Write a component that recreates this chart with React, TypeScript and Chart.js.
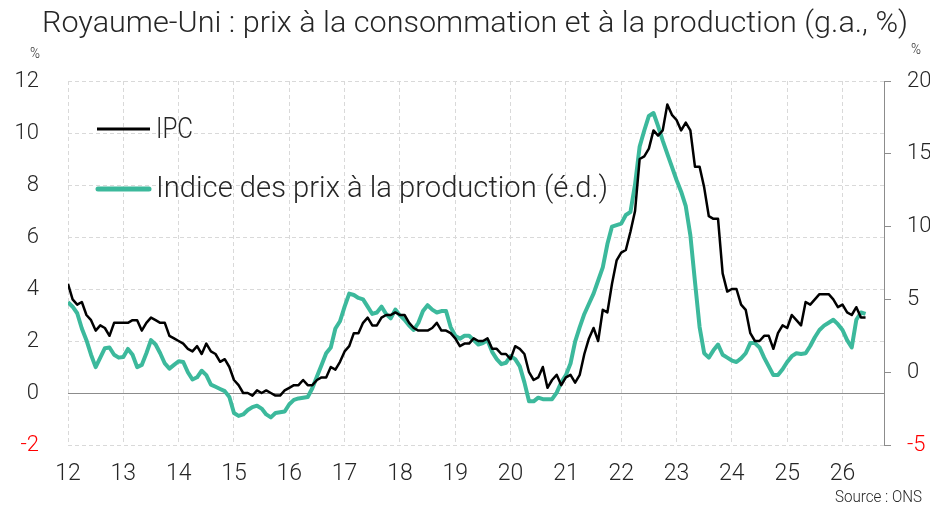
import React, { useEffect, useRef } from "react";
import { Chart, registerables } from "chart.js";

Chart.register(...registerables);

// Monthly series, first point placed at the start of 2012, one point per month
const startYear = 2012;
// IPC (CPI), % y/y, left axis
const ipc = [
  4.2,
  3.6, 3.4, 3.5, 3.0, 2.8, 2.4, 2.6, 2.5, 2.2, 2.7, 2.7, 2.7,
  2.7, 2.8, 2.8, 2.4, 2.7, 2.9, 2.8, 2.7, 2.7, 2.2, 2.1, 2.0,
  1.9, 1.7, 1.6, 1.8, 1.5, 1.9, 1.6, 1.5, 1.2, 1.3, 1.0, 0.5,
  0.3, 0.0, 0.0, -0.1, 0.1, 0.0, 0.1, 0.0, -0.1, -0.1, 0.1, 0.2,
  0.3, 0.3, 0.5, 0.3, 0.3, 0.5, 0.6, 0.6, 1.0, 0.9, 1.2, 1.6,
  1.8, 2.3, 2.3, 2.7, 2.9, 2.6, 2.6, 2.9, 3.0, 3.0, 3.1, 3.0,
  3.0, 2.7, 2.5, 2.4, 2.4, 2.4, 2.5, 2.7, 2.4, 2.4, 2.3, 2.1,
  1.8, 1.9, 1.9, 2.1, 2.0, 2.0, 2.1, 1.7, 1.7, 1.5, 1.5, 1.3,
  1.8, 1.7, 1.5, 0.8, 0.5, 0.6, 1.0, 0.2, 0.5, 0.7, 0.3, 0.6,
  0.7, 0.4, 0.7, 1.5, 2.1, 2.5, 2.0, 3.2, 3.1, 4.2, 5.1, 5.4,
  5.5, 6.2, 7.0, 9.0, 9.1, 9.4, 10.1, 9.9, 10.1, 11.1, 10.7, 10.5,
  10.1, 10.4, 10.1, 8.7, 8.7, 7.9, 6.8, 6.7, 6.7, 4.6, 3.9, 4.0,
  4.0, 3.4, 3.2, 2.3, 2.0, 2.0, 2.2, 2.2, 1.7, 2.3, 2.6, 2.5,
  3.0, 2.8, 2.6, 3.5, 3.4, 3.6, 3.8, 3.8, 3.8, 3.6, 3.3, 3.4,
  3.1, 3.0, 3.3, 2.9, 2.9,
];
// Indice des prix à la production, % y/y, right axis
const ppi = [
  4.8,
  4.5, 4.05, 3.0, 2.2, 1.2, 0.35, 1.0, 1.65, 1.7, 1.2, 1.0, 1.05,
  1.6, 1.2, 0.35, 0.5, 1.3, 2.2, 1.9, 1.3, 0.6, 0.25, 0.5, 0.75,
  0.7, 0.0, -0.5, -0.35, 0.1, -0.2, -0.85, -1.0, -1.15, -1.3, -1.7, -2.8,
  -3.0, -2.9, -2.6, -2.4, -2.3, -2.5, -2.9, -3.1, -2.8, -2.75, -2.7, -2.2,
  -1.9, -1.8, -1.75, -1.7, -1.1, -0.3, 0.5, 1.3, 1.7, 3.0, 3.5, 4.5,
  5.4, 5.3, 5.1, 5.0, 4.5, 4.0, 4.1, 4.5, 4.0, 3.7, 4.3, 3.9,
  3.6, 3.2, 2.9, 3.4, 4.2, 4.6, 4.3, 4.1, 4.2, 4.2, 3.1, 2.5,
  2.3, 2.5, 2.5, 2.2, 1.9, 2.0, 2.2, 1.4, 0.9, 0.55, 0.65, 1.1,
  0.9, 0.4, -0.7, -2.0, -2.0, -1.75, -1.85, -1.85, -1.85, -1.4, -0.7, -0.2,
  0.6, 2.1, 3.1, 4.0, 4.7, 5.4, 6.3, 7.2, 8.8, 10.0, 10.1, 10.2,
  10.8, 11.0, 12.9, 15.5, 16.6, 17.6, 17.8, 16.9, 15.9, 15.0, 14.1, 13.2,
  12.4, 11.4, 9.4, 6.2, 3.1, 1.3, 1.0, 1.5, 1.9, 1.2, 1.0, 0.8,
  0.7, 0.95, 1.3, 2.0, 2.0, 1.7, 1.0, 0.4, -0.2, -0.2, 0.2, 0.7,
  1.1, 1.3, 1.25, 1.3, 1.8, 2.4, 2.9, 3.2, 3.4, 3.6, 3.3, 2.9,
  2.2, 1.7, 3.6, 4.1, 4.0,
];
const yearTicks = [2012, 2013, 2014, 2015, 2016, 2017, 2018, 2019, 2020, 2021, 2022, 2023, 2024, 2025, 2026];
const xMax = 2026.75;
const leftTicks = { min: -2, max: 12, step: 2 };
const rightTicks = { min: -5, max: 20, step: 5 };

const titleText = "Royaume-Uni : prix à la consommation et à la production (g.a., %)";
const ipcLabel = "IPC";
const ppiLabel = "Indice des prix à la production (é.d.)";
const sourceText = "Source : ONS";

const FONT = "Roboto, 'Noto Sans', sans-serif";
const TEXT = "#262626";
const TEAL = "#3cb99c";
const GRID = "#d9d9d9";
const AXIS = "#8c8c8c";

function fitText(ctx: CanvasRenderingContext2D, text: string, x: number, y: number, width: number, size: number, align: string, color = TEXT) {
  ctx.save();
  ctx.font = `300 ${size}px ${FONT}`;
  const w = ctx.measureText(text).width;
  const s = width / w;
  ctx.translate(x, y);
  ctx.scale(s, 1);
  ctx.textAlign = "left";
  ctx.textBaseline = "alphabetic";
  ctx.fillStyle = color;
  const x0 = align === "left" ? 0 : align === "right" ? -w : -w / 2;
  ctx.fillText(text, x0, 0);
  ctx.restore();
}

const decorPlugin = {
  id: "decor",
  beforeDatasetsDraw(chart: any) {
    const { ctx, chartArea, scales } = chart;
    const y0 = scales.y.getPixelForValue(0);
    ctx.save();
    ctx.strokeStyle = AXIS;
    ctx.lineWidth = 1;
    ctx.beginPath();
    ctx.moveTo(chartArea.left, Math.round(y0) + 0.5);
    ctx.lineTo(chartArea.right, Math.round(y0) + 0.5);
    ctx.stroke();
    ctx.restore();
  },
  afterDraw(chart: any) {
    const { ctx } = chart;
    fitText(ctx, titleText, 475, 32, 866, 30, "center");
    fitText(ctx, "%", 35, 58, 10, 15, "center");
    fitText(ctx, "%", 916, 54, 10, 15, "center");
    fitText(ctx, sourceText, 922, 502, 87, 16, "right");
    ctx.save();
    ctx.lineCap = "butt";
    ctx.strokeStyle = "#000";
    ctx.lineWidth = 3;
    ctx.beginPath();
    ctx.moveTo(97, 129);
    ctx.lineTo(150, 129);
    ctx.stroke();
    ctx.strokeStyle = TEAL;
    ctx.lineWidth = 5;
    ctx.lineCap = "round";
    ctx.beginPath();
    ctx.moveTo(98, 189);
    ctx.lineTo(149, 189);
    ctx.stroke();
    ctx.restore();
    fitText(ctx, ipcLabel, 156, 138, 37, 30, "left");
    fitText(ctx, ppiLabel, 156, 197, 452, 30, "left");
  },
};

export default function App() {
  const ref = useRef<HTMLCanvasElement | null>(null);
  useEffect(() => {
    const canvas = ref.current;
    if (!canvas) return;
    Chart.defaults.font.family = FONT;
    const ipcData = ipc.map((v, i) => ({ x: startYear + i / 12, y: v }));
    const ppiData = ppi.map((v, i) => ({ x: startYear + i / 12, y: v }));
    const chart = new Chart(canvas, {
      type: "line",
      data: {
        datasets: [
          {
            label: ipcLabel,
            data: ipcData,
            yAxisID: "y",
            borderColor: "#000",
            borderWidth: 2.5,
            pointRadius: 0,
            tension: 0,
            borderJoinStyle: "round",
            order: 0,
          },
          {
            label: ppiLabel,
            data: ppiData,
            yAxisID: "y2",
            borderColor: TEAL,
            borderWidth: 4,
            pointRadius: 0,
            tension: 0,
            borderJoinStyle: "round",
            order: 1,
          },
        ],
      },
      options: {
        animation: false,
        responsive: false,
        maintainAspectRatio: false,
        parsing: false as any,
        layout: { padding: { top: 81, left: 0, right: 0, bottom: 0 } },
        plugins: {
          legend: { display: false },
          title: { display: false },
          tooltip: { enabled: false },
        },
        scales: {
          x: {
            type: "linear",
            position: "bottom",
            min: startYear,
            max: xMax,
            afterBuildTicks: (s: any) => {
              s.ticks = yearTicks.map((v) => ({ value: v }));
            },
            afterFit: (s: any) => {
              s.height = 60;
            },
            ticks: {
              callback: (v: any) => String(Math.round(Number(v)) - 2000),
              font: { size: 23, weight: "300" },
              color: TEXT,
              padding: 15,
              maxRotation: 0,
              autoSkip: false,
            },
            grid: { color: GRID, drawTicks: false, lineWidth: 1 },
            border: { display: false, dash: [4, 3] },
          },
          y: {
            type: "linear",
            position: "left",
            min: leftTicks.min,
            max: leftTicks.max,
            afterFit: (s: any) => {
              s.width = 68;
            },
            ticks: {
              stepSize: leftTicks.step,
              font: { size: 22, weight: "300" },
              color: (c: any) => (c.tick && c.tick.value === leftTicks.min ? "#ff0000" : TEXT),
              padding: 29,
            },
            grid: { color: GRID, drawTicks: false, lineWidth: 1 },
            border: { display: false, dash: [4, 3] },
          },
          y2: {
            type: "linear",
            position: "right",
            min: rightTicks.min,
            max: rightTicks.max,
            afterFit: (s: any) => {
              s.width = 46;
            },
            ticks: {
              stepSize: rightTicks.step,
              font: { size: 22, weight: "300" },
              color: (c: any) => (c.tick && c.tick.value === rightTicks.min ? "#ff0000" : TEXT),
              padding: 16,
            },
            grid: { drawOnChartArea: false, drawTicks: true, tickLength: 7, tickColor: AXIS, color: AXIS },
            border: { display: true, color: AXIS, width: 1 },
          },
        },
      },
      plugins: [decorPlugin],
    } as any);
    return () => chart.destroy();
  }, []);
  return (
    <div style={{ position: "fixed", left: 0, top: 0, width: 930, height: 505, background: "#fff" }}>
      <canvas ref={ref} width={930} height={505} style={{ width: 930, height: 505, display: "block" }} />
    </div>
  );
}
